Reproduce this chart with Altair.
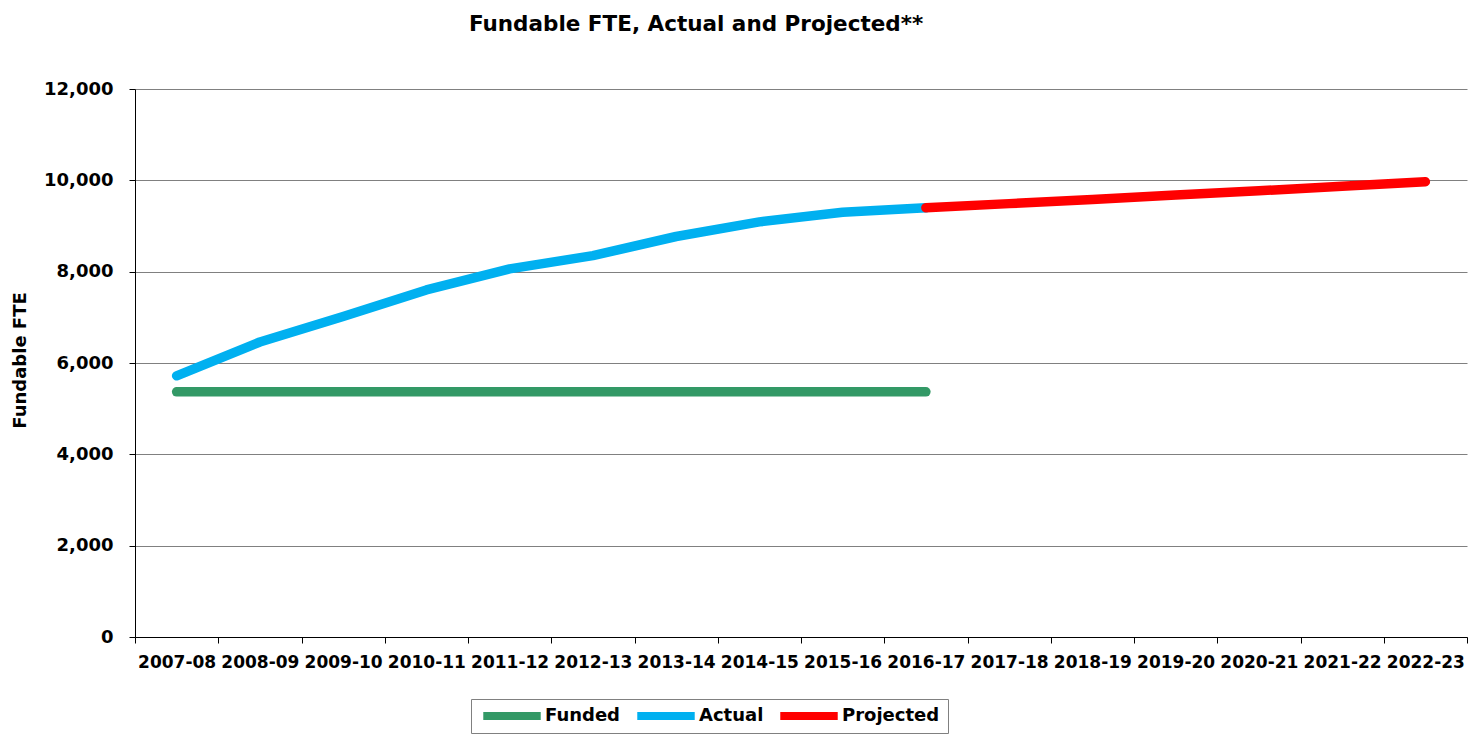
import json
import altair as alt
import pandas as pd

years = ["2007-08", "2008-09", "2009-10", "2010-11", "2011-12", "2012-13", "2013-14", "2014-15",
         "2015-16", "2016-17", "2017-18", "2018-19", "2019-20", "2020-21", "2021-22", "2022-23"]

funded_years = ["2007-08", "2008-09", "2009-10", "2010-11", "2011-12", "2012-13", "2013-14",
                "2014-15", "2015-16", "2016-17"]
funded = [5370, 5370, 5370, 5370, 5370, 5370, 5370, 5370, 5370, 5370]

actual_years = ["2007-08", "2008-09", "2009-10", "2010-11", "2011-12", "2012-13", "2013-14",
                "2014-15", "2015-16", "2016-17"]
actual = [5720, 6460, 7020, 7600, 8060, 8350, 8770, 9090, 9300, 9400]

projected_years = ["2016-17", "2017-18", "2018-19", "2019-20", "2020-21", "2021-22", "2022-23"]
projected = [9400, 9490, 9580, 9680, 9770, 9870, 9970]

series_names = ["Funded", "Actual", "Projected"]
series_colors = ["#339966", "#00B0F0", "#FF0000"]
y_ticks = [0, 2000, 4000, 6000, 8000, 10000, 12000]

rows = []
for name, yrs, vals in [("Funded", funded_years, funded),
                        ("Actual", actual_years, actual),
                        ("Projected", projected_years, projected)]:
    for yr, v in zip(yrs, vals):
        rows.append({"idx": years.index(yr), "year": yr, "value": v, "series": name})
df = pd.DataFrame(rows)

PLOT_W = 1332
PLOT_H = 548
n = len(years)
centers = list(range(n))
boundaries = [i - 0.5 for i in range(n + 1)]
label_expr = "%s[round(datum.value)]" % json.dumps(years)
FONT = "DejaVu Sans"

x_scale = alt.Scale(domain=[-0.5, n - 0.5], nice=False, zero=False)

y_enc = alt.Y("value:Q",
              scale=alt.Scale(domain=[0, 12000], nice=False),
              axis=alt.Axis(values=y_ticks, format=",.0f", title="Fundable FTE",
                            titleFontSize=18, titleFontWeight="bold", titleColor="black",
                            titleFont=FONT, titleX=-115, titleY=271, titleBaseline="middle",
                            titleAlign="center", titleAngle=270,
                            grid=True, gridColor="#808080", gridWidth=1,
                            tickSize=6, tickColor="black", domainColor="black",
                            labelPadding=16, labelFontSize=18, labelFontWeight="bold",
                            labelColor="black", labelFont=FONT))

lines = alt.Chart(df).mark_line(strokeWidth=9.5, strokeCap="round", strokeJoin="round").encode(
    x=alt.X("idx:Q", scale=x_scale,
            axis=alt.Axis(orient="bottom", values=centers, labelExpr=label_expr,
                          title=None, grid=False, domain=False, ticks=True, tickSize=6,
                          tickOpacity=0, labelOverlap=False, labelFlush=False,
                          labelBound=False, labelPadding=11, labelFontSize=17,
                          labelFontWeight="bold", labelColor="black", labelFont=FONT)),
    y=y_enc,
    color=alt.Color("series:N",
                    scale=alt.Scale(domain=series_names, range=series_colors),
                    legend=alt.Legend(title=None, orient="none", legendX=336, legendY=610,
                                      direction="horizontal", symbolType="stroke",
                                      symbolStrokeWidth=8, symbolSize=3300, clipHeight=18,
                                      labelFontSize=18, labelFontWeight="bold",
                                      labelColor="black", labelFont=FONT,
                                      strokeColor="#808080", fillColor="white",
                                      padding=8, columnPadding=12, labelOffset=0)),
)

tick_layer = alt.Chart(df).mark_line(opacity=0).encode(
    x=alt.X("idx:Q", scale=x_scale,
            axis=alt.Axis(orient="bottom", values=boundaries, labels=False, title=None,
                          grid=False, domain=True, domainColor="black", ticks=True,
                          tickSize=6, tickColor="black")),
    y=y_enc,
    detail="series:N",
)

chart = alt.layer(lines, tick_layer).resolve_axis(x="independent").properties(
    width=PLOT_W,
    height=PLOT_H,
    padding={"left": 3, "top": 5, "right": 0, "bottom": 0},
    title=alt.TitleParams("Fundable FTE, Actual and Projected**", fontSize=21.5,
                          fontWeight="bold", color="black", font=FONT,
                          anchor="middle", frame="group", dx=-105, offset=45),
).configure_view(stroke=None)

chart.save("out.html", embed_options={"renderer": "svg", "actions": False})
